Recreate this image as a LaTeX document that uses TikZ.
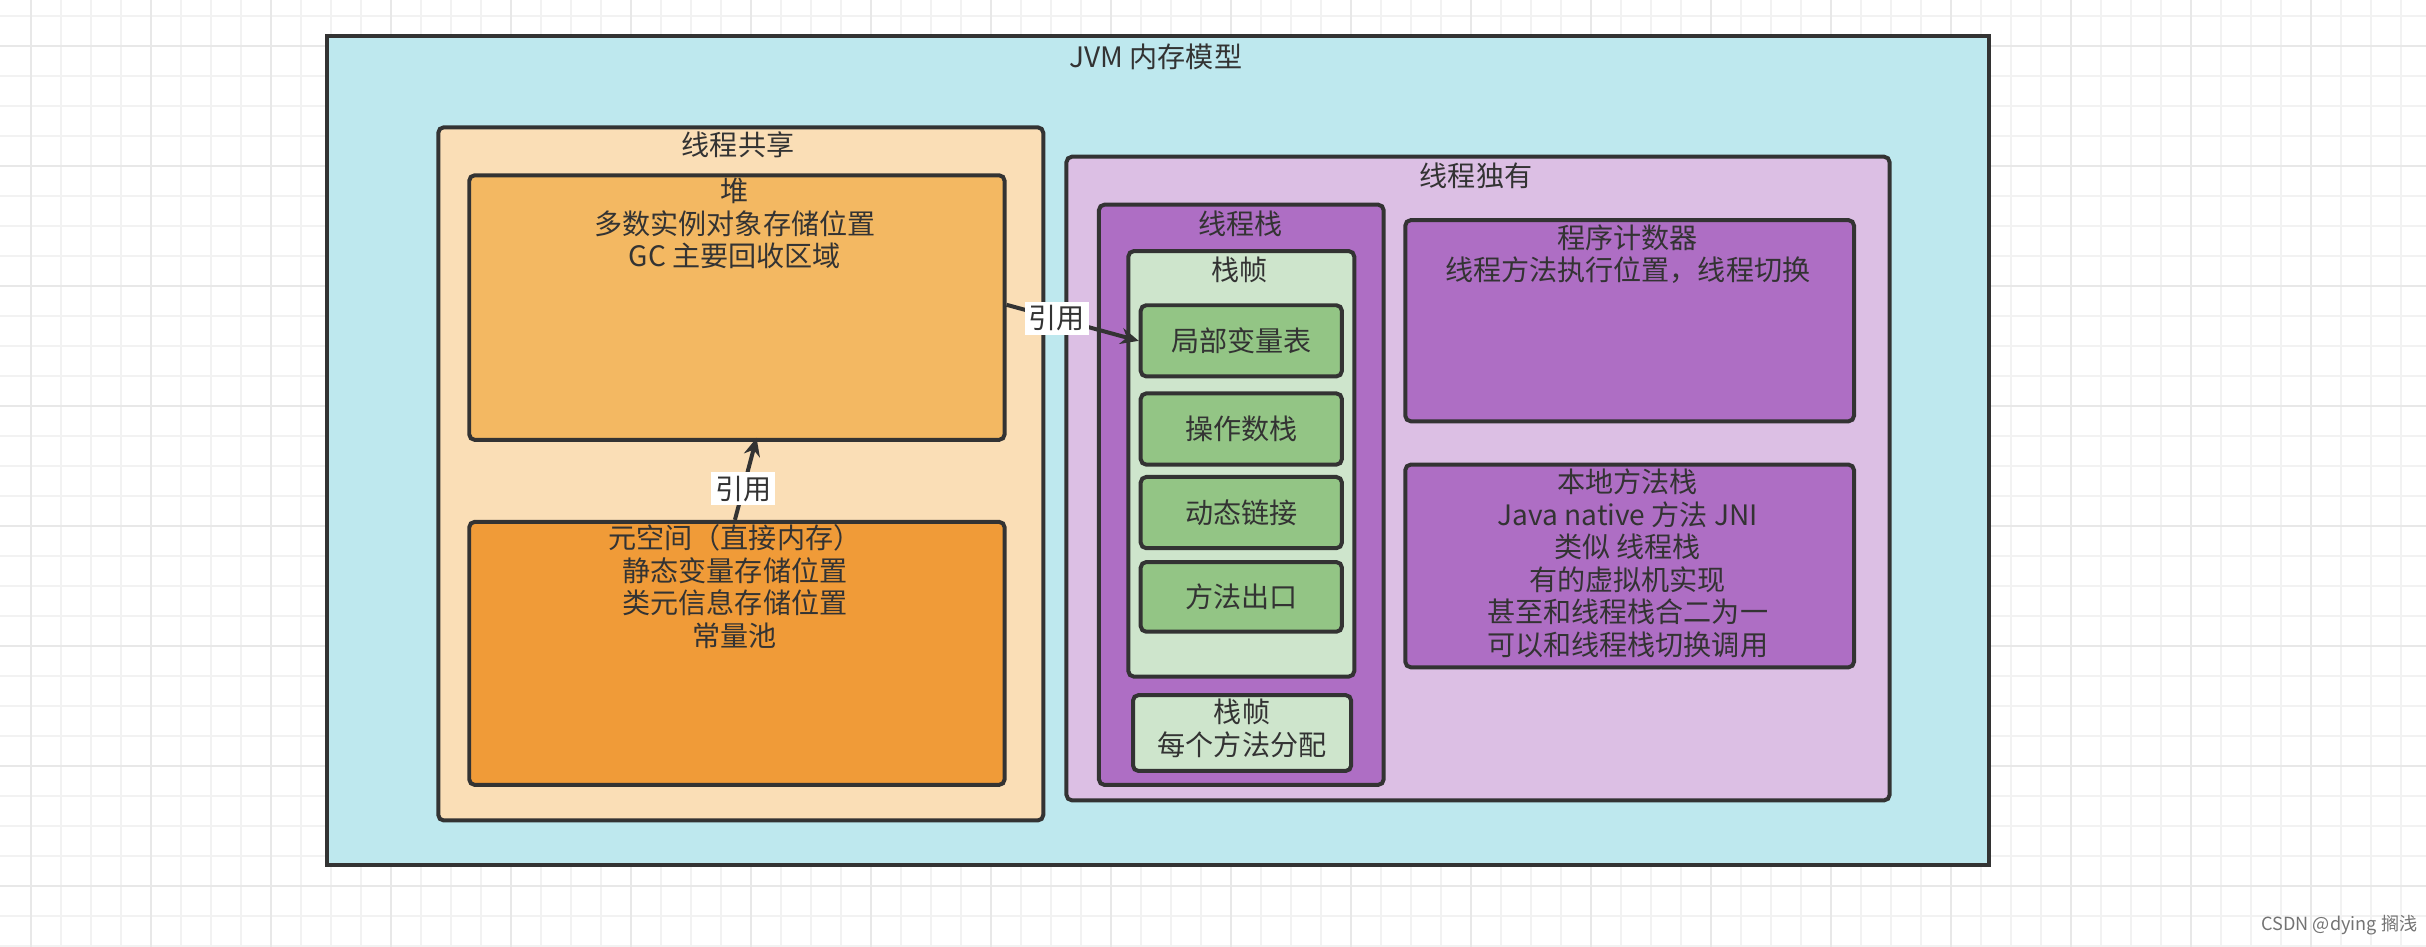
\documentclass[tikz,border=0pt]{standalone}
\usepackage{fontspec}
\setmainfont{Noto Sans CJK SC}
\usetikzlibrary{positioning,arrows.meta}
\definecolor{jvmcyan}{HTML}{BEE8EE}
\definecolor{shared}{HTML}{FADEB6}
\definecolor{heapc}{HTML}{F3B862}
\definecolor{metac}{HTML}{F09B38}
\definecolor{owned}{HTML}{DCBFE4}
\definecolor{purplec}{HTML}{AE6EC4}
\definecolor{framec}{HTML}{CEE5CC}
\definecolor{slotc}{HTML}{93C585}
\definecolor{edgec}{HTML}{333333}
\tikzset{
    box/.style = {draw=edgec, line width=2.2pt, rounded corners=3pt, anchor=north west, inner sep=0pt},
    txt/.style = {font=\fontsize{15.5pt}{17.9pt}\selectfont, text=edgec, align=center, inner sep=0pt, anchor=north},
    ref/.style = {-{Stealth[length=10pt,width=9pt]}, line width=2.2pt, draw=edgec},
    reflab/.style = {txt, anchor=center, fill=white, inner sep=2pt}
}
\newcommand{\mybox}[6]{% name, fill, x, y, w, h
    \node[box, fill=#2, minimum width=#5*0.03cm, minimum height=#6*0.03cm] (#1) at (#3,#4) {};
}
\begin{document}
\begin{tikzpicture}[x=0.03cm, y=-0.03cm]
    \useasboundingbox (0,0) rectangle (1568,612);
    % background grid
    \foreach \i in {0,...,80} {
        \draw[color=black!5, line width=0.8pt] (20+19.39*\i,0) -- (20+19.39*\i,612);
    }
    \foreach \i in {0,...,31} {
        \draw[color=black!5, line width=0.8pt] (0,10.3+19.39*\i) -- (1568,10.3+19.39*\i);
    }
    \foreach \i in {0,...,20} {
        \draw[color=black!9, line width=1.2pt] (20+77.56*\i,0) -- (20+77.56*\i,612);
    }
    \foreach \i in {0,...,8} {
        \draw[color=black!9, line width=1.2pt] (0,29.7+77.56*\i) -- (1568,29.7+77.56*\i);
    }
    % boxes
    \node[box, fill=jvmcyan, rounded corners=0pt, minimum width=1074*0.03cm, minimum height=536*0.03cm] (jvm) at (210,22) {};
    \mybox{shared}{shared}{282}{81}{391}{448}
    \mybox{heap}{heapc}{302}{112}{346}{171}
    \mybox{meta}{metac}{302}{336}{346}{170}
    \mybox{owned}{owned}{688}{100}{532}{416}
    \mybox{tstack}{purplec}{709}{131}{184}{375}
    \mybox{frame}{framec}{728}{161}{146}{275}
    \mybox{locals}{slotc}{736}{196}{130}{46}
    \mybox{operand}{slotc}{736}{253}{130}{46}
    \mybox{dynlink}{slotc}{736}{307}{130}{46}
    \mybox{exitpt}{slotc}{736}{362}{130}{45}
    \mybox{frameb}{framec}{731}{448}{141}{49}
    \mybox{pc}{purplec}{907}{141}{290}{130}
    \mybox{native}{purplec}{907}{299}{290}{131}
    % texts
    \node[txt] at (747,28) {JVM 内存模型};
    \node[txt] at (477,85) {线程共享};
    \node[txt] at (475,115) {堆\\多数实例对象存储位置\\GC 主要回收区域};
    \node[txt] at (475,339) {元空间（直接内存）\\静态变量存储位置\\类元信息存储位置\\常量池};
    \node[txt] at (954,105) {线程独有};
    \node[txt] at (802,136) {线程栈};
    \node[txt] at (801,166) {栈帧};
    \node[txt, anchor=center] at (locals) {局部变量表};
    \node[txt, anchor=center] at (operand) {操作数栈};
    \node[txt, anchor=center] at (dynlink) {动态链接};
    \node[txt, anchor=center] at (exitpt) {方法出口};
    \node[txt, below=3pt] at (frameb.north) {栈帧\\每个方法分配};
    \node[txt] at (1052,145) {程序计数器\\线程方法执行位置，线程切换};
    \node[txt] at (1052,303) {本地方法栈\\Java native 方法 JNI\\类似 线程栈\\有的虚拟机实现\\甚至和线程栈合二为一\\可以和线程栈切换调用};
    % references
    \draw[ref] (heap.east |- 0,197) -- (locals.west) node[reflab, pos=0.38] {引用};
    \draw[ref] (475,336) -- (489,283) node[reflab, pos=0.38] {引用};
    \node[txt, anchor=center, font=\fontsize{10pt}{12pt}\selectfont, text=black!55] at (1512,598) {CSDN @dying 搁浅};
\end{tikzpicture}
\end{document}
